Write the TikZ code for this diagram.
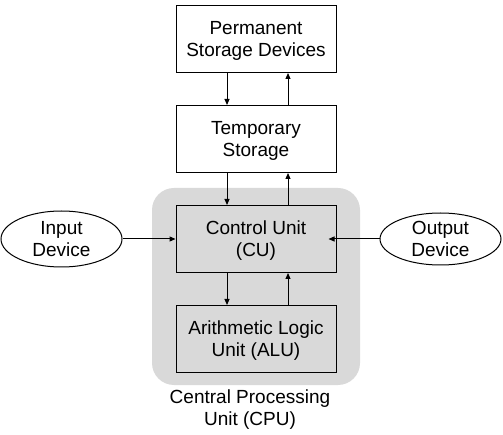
\documentclass[tikz,border=0pt]{standalone}
\usepackage{fontspec}
\setmainfont{Liberation Sans}
\usetikzlibrary{positioning, arrows.meta, shapes.geometric}
\definecolor{cpugrey}{HTML}{D9D9D9}

\begin{document}
\begin{tikzpicture}[x=1pt,y=1pt,node distance=32pt,
  txt/.style={font=\fontsize{19}{22}\selectfont,align=center},
  unit/.style={txt,draw,line width=1pt,minimum width=160pt,minimum height=67pt,text depth=0pt},
  device/.style={txt,draw,ellipse,line width=1pt,minimum width=121pt,minimum height=56pt,inner sep=0pt,text depth=0pt}]
  \useasboundingbox (0,0) rectangle (503,-435);
  \node (cpu) [fill=cpugrey,rounded corners=22pt,minimum width=208pt,minimum height=197pt] at (256,-286.5) {};
  \node (perm) [unit] at (256,-39) {Permanent\\Storage Devices};
  \node (temp) [unit,below=of perm] {Temporary\\Storage};
  \node (cu) [unit,fill=cpugrey,below=of temp] {Control Unit\\(CU)};
  \node (alu) [unit,fill=cpugrey,below=of cu] {Arithmetic Logic\\Unit (ALU)};
  \node (in) [device,left=53pt of cu] {Input\\Device};
  \node (out) [device,right=43pt of cu,minimum height=52pt] {Output\\Device};
  \node (cap) [txt] at (250,-410) {Central Processing\\Unit (CPU)};
  \path[-{Triangle[length=6pt,width=5pt]},line width=1pt]
    ([xshift=-29pt]perm.south) edge ([xshift=-29pt]temp.north)
    ([xshift=32pt]temp.north) edge ([xshift=32pt]perm.south)
    ([xshift=-29pt]temp.south) edge ([xshift=-29pt]cu.north)
    ([xshift=32pt]cu.north) edge ([xshift=32pt]temp.south)
    ([xshift=-29pt]cu.south) edge ([xshift=-29pt]alu.north)
    ([xshift=32pt]alu.north) edge ([xshift=32pt]cu.south)
    (in) edge (cu)
    (out) edge ([xshift=-8pt]cu.east);
\end{tikzpicture}
\end{document}
